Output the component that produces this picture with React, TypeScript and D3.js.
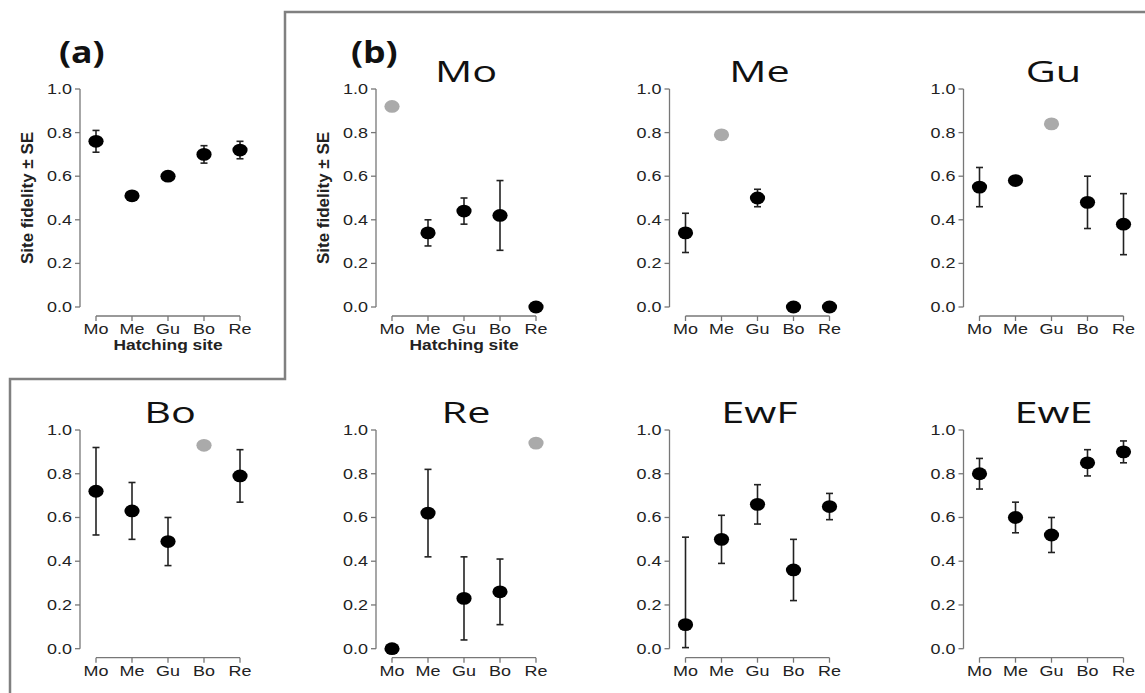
import React from "react";
import * as d3 from "d3";

// ---------- data ----------
const sites = ["Mo", "Me", "Gu", "Bo", "Re"];
const yTicks = [0, 0.2, 0.4, 0.6, 0.8, 1.0];

// (a) overall site fidelity
const allMean = [0.76, 0.51, 0.60, 0.70, 0.72];
const allLo = [0.71, 0.50, 0.59, 0.66, 0.68];
const allHi = [0.81, 0.52, 0.61, 0.74, 0.76];

// (b) by group
const moMean = [0.92, 0.34, 0.44, 0.42, 0.0];
const moLo = [null, 0.28, 0.38, 0.26, null];
const moHi = [null, 0.40, 0.50, 0.58, null];

const meMean = [0.34, 0.79, 0.50, 0.0, 0.0];
const meLo = [0.25, null, 0.46, null, null];
const meHi = [0.43, null, 0.54, null, null];

const guMean = [0.55, 0.58, 0.84, 0.48, 0.38];
const guLo = [0.46, 0.57, null, 0.36, 0.24];
const guHi = [0.64, 0.59, null, 0.60, 0.52];

const boMean = [0.72, 0.63, 0.49, 0.93, 0.79];
const boLo = [0.52, 0.50, 0.38, null, 0.67];
const boHi = [0.92, 0.76, 0.60, null, 0.91];

const reMean = [0.0, 0.62, 0.23, 0.26, 0.94];
const reLo = [null, 0.42, 0.04, 0.11, null];
const reHi = [null, 0.82, 0.42, 0.41, null];

const ewfMean = [0.11, 0.50, 0.66, 0.36, 0.65];
const ewfLo = [0.005, 0.39, 0.57, 0.22, 0.59];
const ewfHi = [0.51, 0.61, 0.75, 0.50, 0.71];

const eweMean = [0.80, 0.60, 0.52, 0.85, 0.90];
const eweLo = [0.73, 0.53, 0.44, 0.79, 0.85];
const eweHi = [0.87, 0.67, 0.60, 0.91, 0.95];

type Panel = {
  title: string | null;
  mean: number[];
  lo: (number | null)[];
  hi: (number | null)[];
  gray: number; // index of home site drawn in grey, -1 none
  col: number;
  row: number;
  yTitle: boolean;
  xTitle: boolean;
};

const panels: Panel[] = [
  { title: null, mean: allMean, lo: allLo, hi: allHi, gray: -1, col: 0, row: 0, yTitle: true, xTitle: true },
  { title: "Mo", mean: moMean, lo: moLo, hi: moHi, gray: 0, col: 1, row: 0, yTitle: true, xTitle: true },
  { title: "Me", mean: meMean, lo: meLo, hi: meHi, gray: 1, col: 2, row: 0, yTitle: false, xTitle: false },
  { title: "Gu", mean: guMean, lo: guLo, hi: guHi, gray: 2, col: 3, row: 0, yTitle: false, xTitle: false },
  { title: "Bo", mean: boMean, lo: boLo, hi: boHi, gray: 3, col: 0, row: 1, yTitle: false, xTitle: false },
  { title: "Re", mean: reMean, lo: reLo, hi: reHi, gray: 4, col: 1, row: 1, yTitle: false, xTitle: false },
  { title: "EwF", mean: ewfMean, lo: ewfLo, hi: ewfHi, gray: -1, col: 2, row: 1, yTitle: false, xTitle: false },
  { title: "EwE", mean: eweMean, lo: eweLo, hi: eweHi, gray: -1, col: 3, row: 1, yTitle: false, xTitle: false },
];

// ---------- layout ----------
const W = 1145;
const H = 693;
const colAxisX = [80, 376, 669.5, 963.5];
const rowTop = [89, 430];
const rowBottom = [307, 648.7];
const SX = 1.24; // horizontal stretch of the original figure
const axisColor = "#777";
const sansFont = "'Liberation Sans', Arial, sans-serif";
const titleFont = "'Open Sans', sans-serif";

function PanelView({ p }: { p: Panel }) {
  const ax = colAxisX[p.col];
  const y = d3.scaleLinear().domain([0, 1]).range([rowBottom[p.row], rowTop[p.row]]);
  const x = d3.scalePoint<string>().domain(sites).range([ax + 16, ax + 160]);
  const xAxisY = rowBottom[p.row] + 9;
  const fmt = d3.format(".1f");
  const cx = (x("Mo")! + x("Re")!) / 2;
  return (
    <g>
      {/* y axis */}
      <line x1={ax} x2={ax} y1={y(0)} y2={y(1)} stroke={axisColor} strokeWidth={1.3} />
      {yTicks.map((t) => (
        <g key={t}>
          <line x1={ax - 5} x2={ax} y1={y(t)} y2={y(t)} stroke={axisColor} strokeWidth={1.3} />
          <text
            transform={`translate(${ax - 8},${y(t) + 5}) scale(${SX},1)`}
            textAnchor="end"
            fontFamily={sansFont}
            fontSize={14.5}
            fill="#222"
          >
            {fmt(t)}
          </text>
        </g>
      ))}
      {/* x axis */}
      <line x1={x("Mo")} x2={x("Re")} y1={xAxisY} y2={xAxisY} stroke={axisColor} strokeWidth={1.3} />
      {sites.map((s) => (
        <g key={s}>
          <line x1={x(s)} x2={x(s)} y1={xAxisY} y2={xAxisY + 5} stroke={axisColor} strokeWidth={1.3} />
          <text
            transform={`translate(${x(s)},${xAxisY + 18}) scale(${SX},1)`}
            textAnchor="middle"
            fontFamily={sansFont}
            fontSize={14.5}
            fill="#222"
          >
            {s}
          </text>
        </g>
      ))}
      {p.xTitle && (
        <text
          transform={`translate(${cx},${xAxisY + 34}) scale(1.2,1)`}
          textAnchor="middle"
          fontFamily={sansFont}
          fontSize={14.5}
          fontWeight="bold"
          fill="#222"
        >
          Hatching site
        </text>
      )}
      {p.yTitle && (
        <text
          transform={`translate(${ax - 47},${(y(0) + y(1)) / 2}) rotate(-90)`}
          textAnchor="middle"
          fontFamily={sansFont}
          fontSize={17}
          fontWeight="bold"
          fill="#222"
        >
          Site fidelity ± SE
        </text>
      )}
      {p.title && (
        <text
          transform={`translate(${cx + 2},${rowTop[p.row] - 7}) scale(1.38,1)`}
          textAnchor="middle"
          fontFamily={titleFont}
          fontSize={30}
          fill="#111"
        >
          {p.title}
        </text>
      )}
      {/* error bars */}
      {sites.map((s, i) => {
        const lo = p.lo[i];
        const hi = p.hi[i];
        if (lo == null || hi == null) return null;
        const xx = x(s)!;
        return (
          <g key={"e" + s} stroke="#222" strokeWidth={1.6}>
            <line x1={xx} x2={xx} y1={y(lo)} y2={y(hi)} />
            <line x1={xx - 3.5} x2={xx + 3.5} y1={y(lo)} y2={y(lo)} />
            <line x1={xx - 3.5} x2={xx + 3.5} y1={y(hi)} y2={y(hi)} />
          </g>
        );
      })}
      {/* points */}
      {sites.map((s, i) => (
        <ellipse
          key={"p" + s}
          cx={x(s)}
          cy={y(p.mean[i])}
          rx={7.6}
          ry={6.4}
          fill={i === p.gray ? "#aaaaaa" : "#000"}
        />
      ))}
    </g>
  );
}

export default function App() {
  return (
    <svg
      width={W}
      height={H}
      style={{ position: "absolute", left: 0, top: 0, background: "#fff" }}
    >
      <rect x={0} y={0} width={W} height={H} fill="#fff" />
      {/* frame around panel (b) */}
      <path
        d={`M ${W + 5} 12 L 285 12 L 285 379 L 10 379 L 10 ${H + 5}`}
        fill="none"
        stroke="#808080"
        strokeWidth={2.5}
      />
      <text
        transform={`translate(59,63) scale(1.15,1)`}
        fontFamily={titleFont}
        fontSize={31}
        fontWeight="bold"
        fill="#111"
      >
        (a)
      </text>
      <text
        transform={`translate(351,63) scale(1.15,1)`}
        fontFamily={titleFont}
        fontSize={31}
        fontWeight="bold"
        fill="#111"
      >
        (b)
      </text>
      {panels.map((p, i) => (
        <PanelView key={i} p={p} />
      ))}
    </svg>
  );
}
